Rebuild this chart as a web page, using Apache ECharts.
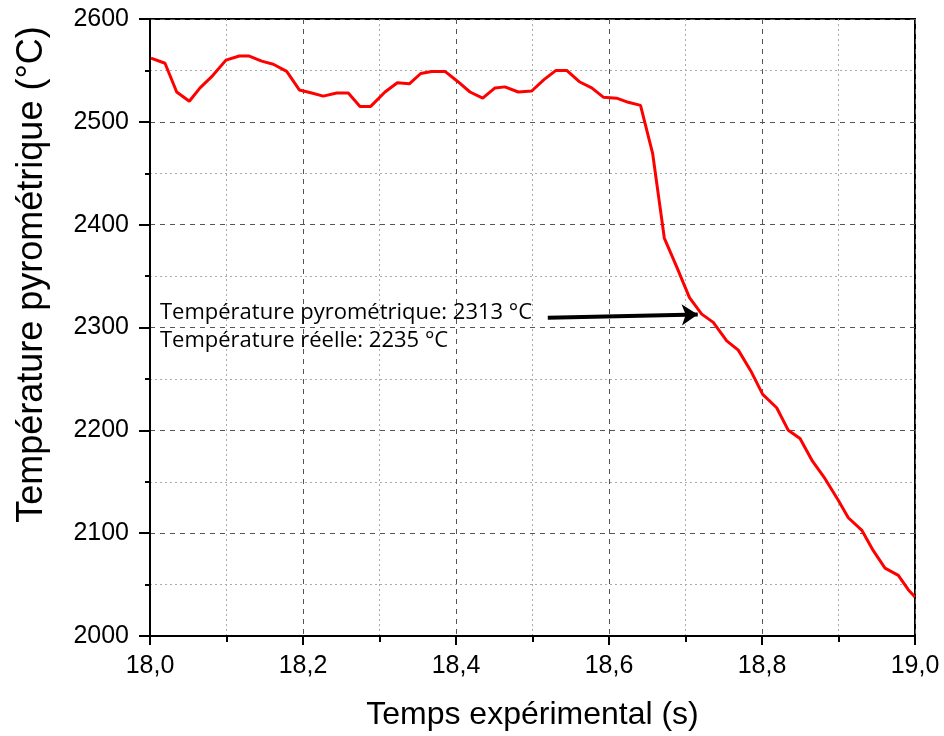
<!DOCTYPE html>
<html>
<head>
<meta charset="utf-8">
<script src="https://cdn.jsdelivr.net/npm/echarts@6/dist/echarts.min.js"></script>
<style>html,body{margin:0;padding:0;background:#fff}#c{width:944px;height:736px}</style>
</head>
<body>
<div id="c"></div>
<script>
// Data
var times = [18.0013, 18.0196, 18.0349, 18.0514, 18.0654, 18.082, 18.0993, 18.1167, 18.1298, 18.146,
  18.1612, 18.1787, 18.1952, 18.2114, 18.2265, 18.244, 18.2592, 18.2745, 18.2885, 18.3072,
  18.3233, 18.339, 18.3539, 18.3682, 18.3856, 18.4026, 18.4183, 18.4349, 18.451, 18.464,
  18.4814, 18.499, 18.515, 18.5307, 18.5447, 18.5612, 18.5774, 18.5925, 18.61, 18.6252,
  18.6412, 18.6571, 18.6723, 18.6885, 18.7052, 18.7212, 18.7363, 18.7539, 18.769, 18.7852,
  18.8009, 18.8192, 18.8344, 18.8497, 18.866, 18.8824, 18.8997, 18.9128, 18.9303, 18.9455,
  18.9608, 18.9782, 18.9912, 19.0];
var temps = [2562, 2557, 2529, 2520, 2533, 2545, 2560, 2564, 2564, 2559,
  2556, 2549, 2531, 2528, 2525, 2528, 2528, 2515, 2515, 2529,
  2538, 2537, 2547, 2549, 2549, 2539, 2529, 2523, 2533, 2534,
  2529, 2530, 2541, 2550, 2550, 2539, 2533, 2524, 2523, 2519,
  2516, 2469, 2387, 2359, 2329, 2313, 2305, 2287, 2278, 2258,
  2235, 2222, 2200, 2192, 2170, 2153, 2132, 2115, 2103, 2083,
  2066, 2059, 2045, 2038];
var annotLines = ['Température pyrométrique: 2313 °C', 'Température réelle: 2235 °C'];
var annotPos = [[18.013, 2314.5], [18.013, 2287.5]];
var arrowFrom = [18.52, 2309.5];
var arrowTo = [18.716, 2312.6];
var xTitle = 'Temps expérimental (s)';
var yTitle = 'Température pyrométrique (°C)';

var series = [];
for (var i = 0; i < times.length; i++) series.push([times[i], temps[i]]);

var chart = echarts.init(document.getElementById('c'), null, {renderer: 'canvas'});
var axisFont = 'Liberation Sans';
chart.setOption({
  animation: false,
  backgroundColor: '#fff',
  grid: {left: 150, right: 29, top: 19, bottom: 98, show: true, borderColor: '#000', borderWidth: 2},
  xAxis: {
    type: 'value', min: 18, max: 19, interval: 0.2,
    name: xTitle, nameLocation: 'middle', nameGap: 63,
    nameTextStyle: {fontFamily: axisFont, fontSize: 32, color: '#000'},
    axisLine: {show: true, onZero: false, lineStyle: {color: '#000', width: 2}},
    axisTick: {show: true, inside: false, length: 9, lineStyle: {color: '#000', width: 2}},
    minorTick: {show: true, splitNumber: 2, length: 6, lineStyle: {color: '#000', width: 2}},
    axisLabel: {fontFamily: axisFont, fontSize: 25, color: '#000', margin: 18,
      formatter: function (v) { return v.toFixed(1).replace('.', ','); }},
    splitLine: {show: true, lineStyle: {color: '#555', type: [5, 5], width: 1}},
    minorSplitLine: {show: true, lineStyle: {color: '#aaa', type: [2, 3], width: 1}}
  },
  yAxis: {
    type: 'value', min: 2000, max: 2600, interval: 100,
    name: yTitle, nameLocation: 'middle', nameGap: 100, nameRotate: 90,
    nameTextStyle: {fontFamily: axisFont, fontSize: 36, color: '#000', padding: [0, 0, 0, 106]},
    axisLine: {show: true, onZero: false, lineStyle: {color: '#000', width: 2}},
    axisTick: {show: true, inside: false, length: 11, lineStyle: {color: '#000', width: 2}},
    minorTick: {show: true, splitNumber: 2, length: 5, lineStyle: {color: '#000', width: 2}},
    axisLabel: {fontFamily: axisFont, fontSize: 25, color: '#000', margin: 21,
      formatter: function (v) { return String(v); }},
    splitLine: {show: true, lineStyle: {color: '#555', type: [5, 5], width: 1}},
    minorSplitLine: {show: true, lineStyle: {color: '#aaa', type: [2, 3], width: 1}}
  },
  series: [{
    type: 'line', data: series, showSymbol: false, symbol: 'none',
    lineStyle: {color: '#ff0000', width: 3}, z: 5,
    markLine: {
      silent: true, symbol: ['none', 'arrow'], symbolSize: [16, 16],
      lineStyle: {color: '#000', width: 4, type: 'solid'},
      label: {show: false},
      data: [[{coord: arrowFrom}, {coord: arrowTo}]]
    },
    markPoint: {
      silent: true, symbol: 'circle', symbolSize: 0,
      label: {show: true, position: 'right', distance: 0, color: '#000',
        fontFamily: 'Open Sans', fontSize: 22,
        formatter: function (p) { return p.name; }},
      data: annotLines.map(function (t, k) { return {name: t, coord: annotPos[k]}; })
    }
  }]
});
</script>
</body>
</html>
